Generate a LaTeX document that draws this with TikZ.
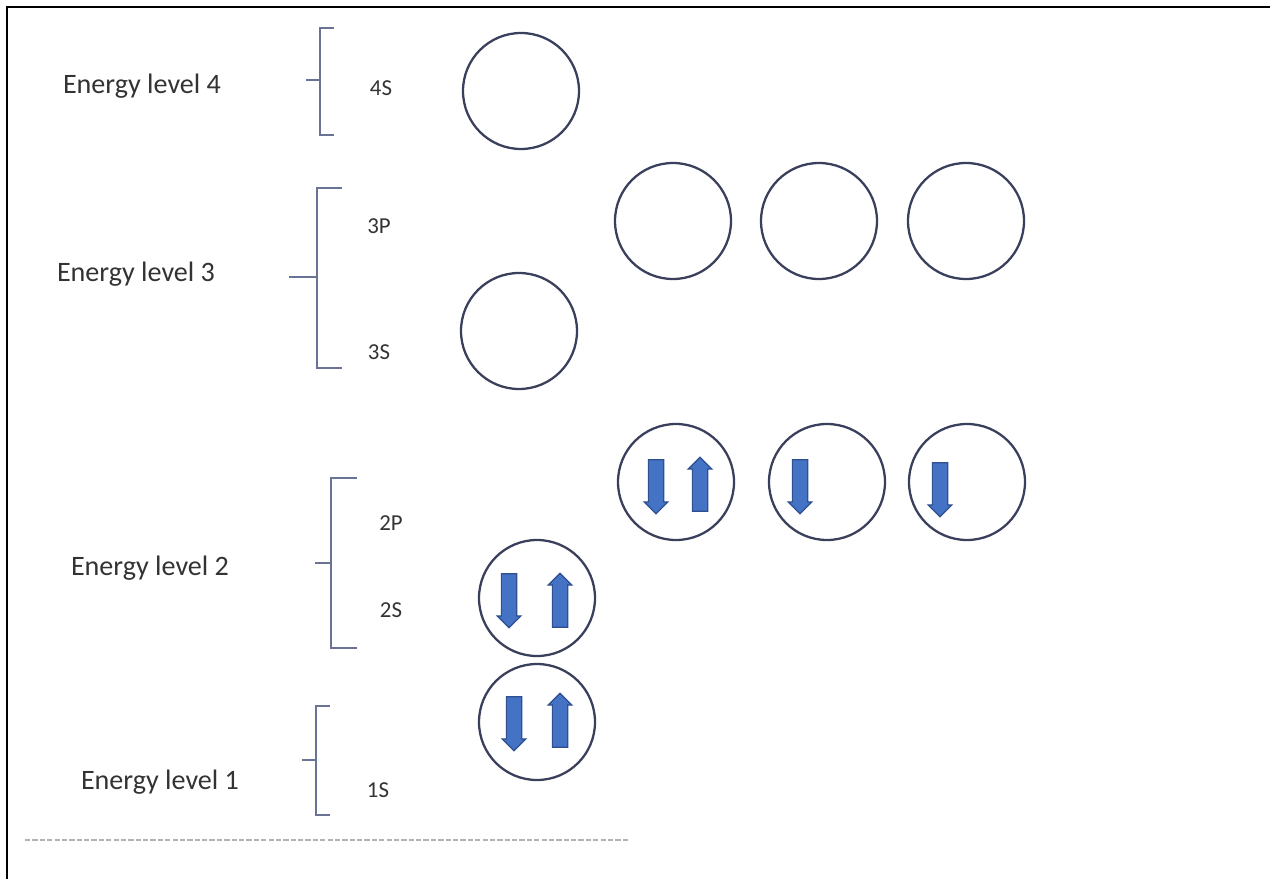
\documentclass[tikz,border=0pt]{standalone}
\usepackage{fontspec}
\setmainfont{Carlito}
\usetikzlibrary{shapes.arrows}
\definecolor{orbline}{HTML}{3A3F5C}
\definecolor{brace}{HTML}{6A7396}
\definecolor{spinfill}{HTML}{4472C4}
\definecolor{spinedge}{HTML}{2F4F8F}
\begin{document}
\begin{tikzpicture}[x=0.02cm,y=-0.02cm,
  orbital/.style={circle,draw=orbline,line width=1.3pt,minimum size=116*0.02cm,inner sep=0pt},
  lvl/.style={font=\fontsize{16}{18}\selectfont,text=black!80,inner sep=0pt},
  sub/.style={font=\fontsize{13}{15}\selectfont,text=black!80,inner sep=0pt},
  bracketline/.style={draw=brace,line width=1.3pt},
  spindown/.style={single arrow,draw=spinedge,fill=spinfill,line width=0.7pt,
    minimum height=54*0.02cm,inner sep=4pt,single arrow head extend=2.4pt,
    single arrow head indent=0pt,shape border rotate=270},
  spinup/.style={spindown,shape border rotate=90}]
\useasboundingbox (0,0) rectangle (1270,879);
% frame
\draw[line width=1.6pt] (7,879) -- (7,7) -- (1270,7);

% level 4
\node[lvl] (L4) at (142,86) {Energy level 4};
\draw[bracketline] (334,28) -- (320,28) -- (320,135) -- (334,135);
\draw[bracketline] (320,80) -- (306,80);
\node[sub] (s4) at (381,88) {4S};
\node[orbital] (o4s) at (521,91) {};

% level 3
\node[lvl] (L3) at (136,274) {Energy level 3};
\draw[bracketline] (342,188) -- (317,188) -- (317,368) -- (342,368);
\draw[bracketline] (317,277) -- (289,277);
\node[sub] (p3) at (379,226) {3P};
\node[sub] (s3) at (379,352) {3S};
\node[orbital] (o3p1) at (673,221) {};
\node[orbital] (o3p2) at (819,221) {};
\node[orbital] (o3p3) at (966,221) {};
\node[orbital] (o3s) at (519,331) {};

% level 2
\node[lvl] (L2) at (150,568) {Energy level 2};
\draw[bracketline] (357,478) -- (331,478) -- (331,648) -- (357,648);
\draw[bracketline] (331,563) -- (315,563);
\node[sub] (p2) at (391,523) {2P};
\node[sub] (s2) at (391,610) {2S};
\node[orbital] (o2p1) at (676,482) {};
\node[orbital] (o2p2) at (827,482) {};
\node[orbital] (o2p3) at (967,482) {};
\node[orbital] (o2s) at (537,598) {};

% level 1
\node[lvl] (L1) at (160,782) {Energy level 1};
\draw[bracketline] (330,706) -- (316,706) -- (316,815) -- (330,815);
\draw[bracketline] (316,760) -- (302,760);
\node[sub] (s1) at (378,790) {1S};
\node[orbital] (o1s) at (537,722) {};

% electron spins
\node[spindown] (e2p1a) at (656,483) {};
\node[spinup]   (e2p1b) at (700,488) {};
\node[spindown] (e2p2)  at (800,483) {};
\node[spindown] (e2p3)  at (940,486) {};
\node[spindown] (e2sa)  at (509,597) {};
\node[spinup]   (e2sb)  at (560,604) {};
\node[spindown] (e1sa)  at (514,720) {};
\node[spinup]   (e1sb)  at (560,724) {};

% faint dotted rule along the bottom
\draw[gray!60,line width=0.8pt,dash pattern=on 3pt off 1.2pt] (25,840) -- (630,840);
\end{tikzpicture}
\end{document}
